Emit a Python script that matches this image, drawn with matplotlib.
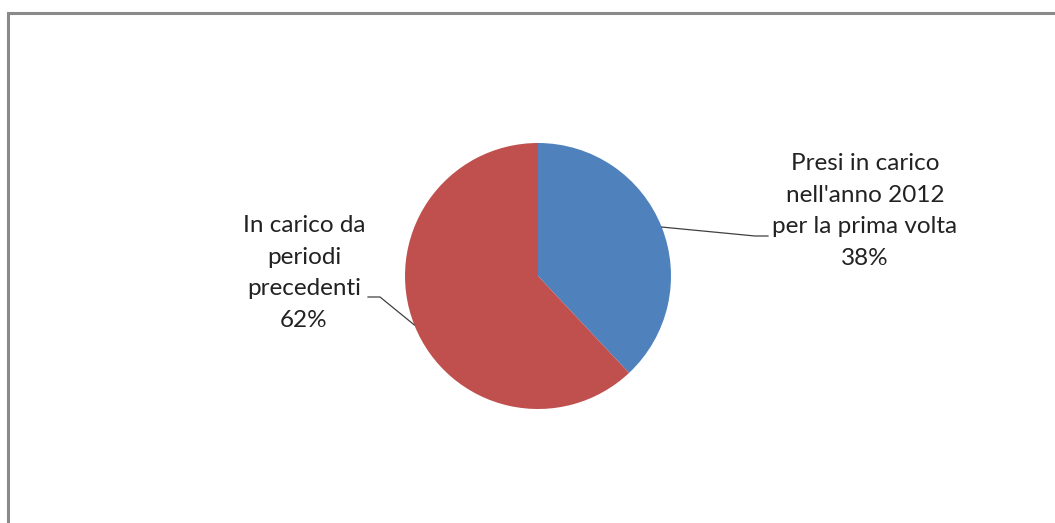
import numpy as np
import matplotlib.pyplot as plt
from matplotlib.patches import Rectangle

# dati
labels = ["Presi in carico\nnell'anno 2012\nper la prima volta", "In carico da\nperiodi\nprecedenti"]
values = [38, 62]
colors = ['#4F81BD', '#C0504D']

plt.rcParams['font.family'] = ['Lato', 'DejaVu Sans']

fig = plt.figure(figsize=(10.55, 5.23), dpi=100)
ax = fig.add_axes([0, 0, 1, 1])

cx, cy, r = 538, 247, 133
wedges, _ = ax.pie(values, colors=colors, startangle=90, counterclock=False,
                   center=(cx, cy), radius=r, frame=True)
ax.set_xlim(0, 1055)
ax.set_ylim(0, 523)
ax.axis('off')

# etichette con linee di richiamo
text_pos = [(865, 312), (304, 250)]
elbow = [(755, 287), (380, 226)]
tail = [(768, 287), (368, 226)]
for w, lab, v, tp, el, tl in zip(wedges, labels, values, text_pos, elbow, tail):
    ang = np.deg2rad((w.theta1 + w.theta2) / 2)
    px, py = cx + r * np.cos(ang), cy + r * np.sin(ang)
    ax.plot([px, el[0], tl[0]], [py, el[1], tl[1]], color='#404040', lw=0.9)
    ax.text(tp[0], tp[1], '{}\n{}%'.format(lab, v), ha='center', va='center',
            fontsize=17.5, linespacing=1.63, color='#222222')

# cornice
ax.add_patch(Rectangle((7.5, -10), 1100, 523 - 12.5 + 10, fill=False,
                       edgecolor='#8a8a8a', lw=2.2, clip_on=False))

fig.savefig('out.png', dpi=100)
